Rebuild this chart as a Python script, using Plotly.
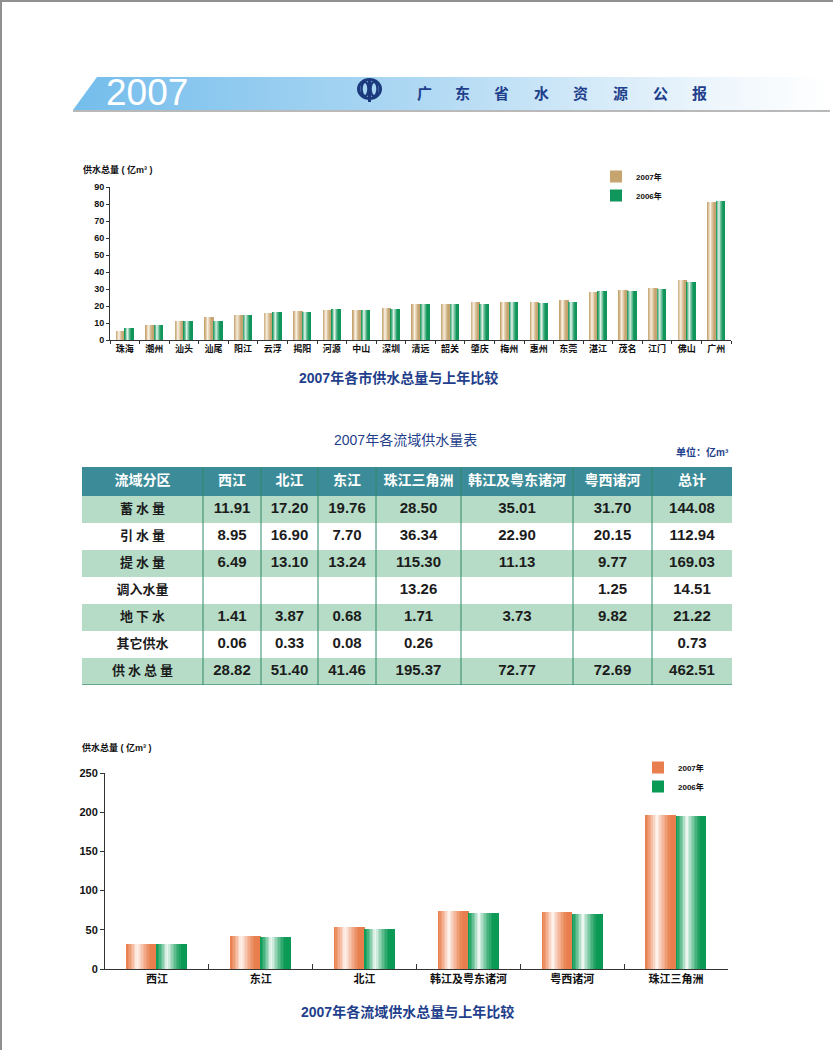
import plotly.graph_objects as go

W, H = 833, 1050

# ---------------- data ----------------
cities = ["珠海", "潮州", "汕头", "汕尾", "阳江", "云浮", "揭阳", "河源", "中山", "深圳", "清远",
          "韶关", "肇庆", "梅州", "惠州", "东莞", "湛江", "茂名", "江门", "佛山", "广州"]
city_2007 = [5.2, 8.8, 11.2, 13.3, 14.5, 15.6, 17.1, 17.5, 17.8, 18.8, 21.2,
             21.1, 22.2, 22.4, 22.5, 23.3, 28.2, 29.2, 30.6, 35.1, 81.0]
city_2006 = [6.8, 8.8, 11.2, 11.3, 14.5, 16.3, 16.7, 18.0, 17.8, 18.0, 21.0,
             21.1, 21.2, 22.2, 21.8, 22.4, 28.8, 29.0, 30.2, 34.1, 81.6]

basins = ["西江", "东江", "北江", "韩江及粤东诸河", "粤西诸河", "珠江三角洲"]
basin_2007 = [31.9, 41.7, 53.2, 73.7, 72.4, 196.3]
basin_2006 = [31.9, 40.5, 50.7, 71.1, 70.7, 195.1]

table_header = ["流域分区", "西江", "北江", "东江", "珠江三角洲", "韩江及粤东诸河", "粤西诸河", "总计"]
row_labels = ["蓄 水 量", "引 水 量", "提 水 量", "调入水量", "地 下 水", "其它供水", "供 水 总 量"]
col_xijiang = [11.91, 8.95, 6.49, None, 1.41, 0.06, 28.82]
col_beijiang = [17.20, 16.90, 13.10, None, 3.87, 0.33, 51.40]
col_dongjiang = [19.76, 7.70, 13.24, None, 0.68, 0.08, 41.46]
col_delta = [28.50, 36.34, 115.30, 13.26, 1.71, 0.26, 195.37]
col_hanjiang = [35.01, 22.90, 11.13, None, 3.73, None, 72.77]
col_yuexi = [31.70, 20.15, 9.77, 1.25, 9.82, None, 72.69]
col_total = [144.08, 112.94, 169.03, 14.51, 21.22, 0.73, 462.51]
series_names = ["2007年", "2006年"]

# ---------------- helpers ----------------
FONT = "Liberation Sans, Noto Sans CJK SC, sans-serif"
NAVY = "#1f3f8c"


def px(x):
    return x / W


def py(y):
    return 1 - y / H


def hex2rgb(h):
    h = h.lstrip("#")
    return tuple(int(h[i:i + 2], 16) for i in (0, 2, 4))


def mix(base, hi, t):
    a, b = hex2rgb(base), hex2rgb(hi)
    return "rgb(%d,%d,%d)" % tuple(round(a[i] + (b[i] - a[i]) * t) for i in range(3))


K = 20


def shade(i, peak=0.36):
    t = (i + 0.5) / K
    d = abs(t - peak) / (peak if t < peak else (1 - peak) * 0.75)
    return max(0.0, 1 - d) ** 1.3


def gradient_bars(fig, x, y, side, bw, base, hi, name, xa, ya, legend):
    sw = bw / K
    start = -bw if side == 0 else 0
    for i in range(K):
        fig.add_trace(go.Bar(
            x=x, y=y, xaxis=xa, yaxis=ya,
            width=sw * 1.15, offset=start + i * sw,
            marker=dict(color=mix(base, hi, shade(i)), line=dict(width=0)),
            name=name, legendgroup=name + xa, legend=legend,
            showlegend=(i == K - 1), hoverinfo="x+y",
        ))


fig = go.Figure()

# ---------------- header banner ----------------
fig.add_trace(go.Scatter(
    x=[97, 830, 830, 73, 97], y=[77, 77, 110, 110, 77], xaxis="x3", yaxis="y3",
    mode="lines", fill="toself", line=dict(width=0), hoverinfo="skip", showlegend=False,
    fillgradient=dict(type="horizontal",
                      colorscale=[[0, "#74bdec"], [0.45, "#aed8f3"], [0.85, "#eef6fc"], [1, "#ffffff"]]),
))

# ---------------- top chart ----------------
gradient_bars(fig, cities, city_2007, 0, 0.29, "#c6a470", "#faf3e6", series_names[0], "x", "y", "legend")
gradient_bars(fig, cities, city_2006, 1, 0.29, "#10955a", "#e6f5ec", series_names[1], "x", "y", "legend")

# ---------------- bottom chart ----------------
gradient_bars(fig, basins, basin_2007, 0, 0.29, "#e97f4e", "#fff7f2", series_names[0], "x2", "y2", "legend2")
gradient_bars(fig, basins, basin_2006, 1, 0.29, "#0b9a55", "#f4fbf7", series_names[1], "x2", "y2", "legend2")

# ---------------- table (heatmap fills + text) ----------------
col_w = [121, 58, 57, 58, 85, 112, 79, 80]
HEAD_H, ROW_H = 29, 27
x_edges = [0]
for w in col_w:
    x_edges.append(x_edges[-1] + w)
y_edges = [0, HEAD_H] + [HEAD_H + ROW_H * (r + 1) for r in range(len(row_labels))]
z = [[0] * len(col_w)] + [[1 if r % 2 == 0 else 2] * len(col_w) for r in range(len(row_labels))]
fig.add_trace(go.Heatmap(
    x=x_edges, y=y_edges, z=z, xaxis="x4", yaxis="y4", zmin=0, zmax=2, showscale=False,
    colorscale=[[0, "#3b8b98"], [0.5, "#b6dcc7"], [1, "#ffffff"]], hoverinfo="skip",
))


def fmt(col):
    return ["" if v is None else f"{v:.2f}" for v in col]


cols = [row_labels] + [fmt(c) for c in (col_xijiang, col_beijiang, col_dongjiang, col_delta,
                                         col_hanjiang, col_yuexi, col_total)]
cx = [(x_edges[j] + x_edges[j + 1]) / 2 for j in range(len(col_w))]
cy_head = HEAD_H / 2
cy_rows = [(y_edges[r + 1] + y_edges[r + 2]) / 2 for r in range(len(row_labels))]

fig.add_trace(go.Scatter(
    x=cx, y=[cy_head] * len(cx), text=table_header, xaxis="x4", yaxis="y4", mode="text",
    textposition="middle center", hoverinfo="skip", showlegend=False,
    textfont=dict(family="Noto Sans CJK SC", size=14, color="white", weight="bold"),
))
for j, col in enumerate(cols):
    fig.add_trace(go.Scatter(
        x=[cx[j]] * len(col), y=cy_rows, text=col, xaxis="x4", yaxis="y4", mode="text",
        textposition="middle center", hoverinfo="skip", showlegend=False,
        textfont=dict(family=("Noto Sans CJK SC" if j == 0 else "Liberation Sans"),
                      size=(13 if j == 0 else 15), color="#1c1c1c", weight="bold"),
    ))

# ---------------- layout ----------------
shapes = []
shapes.append(dict(type="line", xref="paper", yref="paper", x0=0, x1=1, y0=py(1), y1=py(1),
                   line=dict(color="#909090", width=2)))
shapes.append(dict(type="line", xref="paper", yref="paper", x0=px(1), x1=px(1), y0=0, y1=py(1),
                   line=dict(color="#909090", width=2)))
shapes.append(dict(type="line", xref="paper", yref="paper", x0=px(73), x1=px(830), y0=py(111), y1=py(111),
                   line=dict(color="#b9b9b9", width=2)))
# logo
shapes.append(dict(type="circle", xref="paper", yref="paper", x0=px(357), x1=px(382), y0=py(100), y1=py(78),
                   fillcolor="#1b3a7e", line=dict(width=0)))
shapes.append(dict(type="circle", xref="paper", yref="paper", x0=px(360), x1=px(379), y0=py(97), y1=py(81),
                   fillcolor="#a8d5f2", line=dict(width=0)))
for a, b in ((361.5, 368.5), (370.5, 377.5)):
    shapes.append(dict(type="circle", xref="paper", yref="paper", x0=px(a), x1=px(b), y0=py(96), y1=py(82),
                       fillcolor="rgba(0,0,0,0)", line=dict(color="#1b3a7e", width=2.5)))
shapes.append(dict(type="rect", xref="paper", yref="paper", x0=px(368), x1=px(371), y0=py(102), y1=py(80),
                   fillcolor="#1b3a7e", line=dict(width=0)))
# table vertical rules and bottom rule
for xv in x_edges[1:-1]:
    shapes.append(dict(type="line", xref="x4", yref="y4", x0=xv, x1=xv, y0=0, y1=y_edges[-1],
                       line=dict(color="#2f8a66", width=1)))
shapes.append(dict(type="line", xref="x4", yref="y4", x0=0, x1=x_edges[-1], y0=y_edges[-1] + 1,
                   y1=y_edges[-1] + 1, line=dict(color="#1c7650", width=3)))


def note(text, x, y, size, color, weight="normal", xanchor="center", family=FONT):
    return dict(text=text, x=px(x), y=py(y), xref="paper", yref="paper", xanchor=xanchor,
                yanchor="middle", showarrow=False,
                font=dict(family=family, size=size, color=color, weight=weight))


ann = [note("2007", 104, 93, 37, "white", xanchor="left", family="Liberation Sans")]
for ch, cxx in zip("广东省水资源公报", (424, 462, 501, 541, 580, 620, 660, 699)):
    ann.append(note(ch, cxx, 93, 15, NAVY, "bold", family="Noto Sans CJK SC"))
ann.append(note("供水总量 ( 亿m³ )", 81, 170, 9, "#111", "bold", xanchor="left"))
ann.append(note("2007年各市供水总量与上年比较", 398, 378, 14, NAVY, "bold"))
ann.append(note("2007年各流域供水量表", 405, 440, 14, NAVY))
ann.append(note("单位：亿m³", 731, 452, 10, NAVY, "bold", xanchor="right"))
ann.append(note("供水总量 ( 亿m³ )", 80, 747, 9, "#111", "bold", xanchor="left"))
ann.append(note("2007年各流域供水总量与上年比较", 407, 1012, 14, NAVY, "bold"))

axis_common = dict(showgrid=False, zeroline=False, showline=True, linecolor="#333", linewidth=1,
                   tickcolor="#333", fixedrange=True, automargin=False)

fig.update_layout(
    width=W, height=H, margin=dict(l=0, r=0, t=0, b=0, pad=0, autoexpand=False),
    paper_bgcolor="white", plot_bgcolor="rgba(0,0,0,0)",
    barmode="overlay", bargap=0,
    font=dict(family=FONT, color="#111"),
    shapes=shapes, annotations=ann,
    xaxis=dict(domain=[px(110), px(731)], anchor="y", type="category", tickson="boundaries",
               ticks="outside", ticklen=3,
               tickfont=dict(family=FONT, size=9, weight="bold"), **axis_common),
    yaxis=dict(domain=[py(340), py(187)], anchor="x", range=[0, 90], dtick=10, ticks="outside", ticklen=3,
               tickfont=dict(family=FONT, size=9, weight="bold"), **axis_common),
    xaxis2=dict(domain=[px(105), px(728)], anchor="y2", type="category", tickson="boundaries",
                ticks="inside", ticklen=5,
                tickfont=dict(family=FONT, size=11, weight="bold"), **axis_common),
    yaxis2=dict(domain=[py(969), py(773)], anchor="x2", range=[0, 250], dtick=50, ticks="outside", ticklen=4,
                tickfont=dict(family=FONT, size=11, weight="bold"), **axis_common),
    xaxis3=dict(domain=[0, 1], anchor="y3", range=[0, W], visible=False, fixedrange=True),
    yaxis3=dict(domain=[0, 1], anchor="x3", range=[H, 0], visible=False, fixedrange=True),
    xaxis4=dict(domain=[px(82), px(732)], anchor="y4", range=[0, x_edges[-1]], visible=False, fixedrange=True),
    yaxis4=dict(domain=[py(467 + y_edges[-1]), py(467)], anchor="x4", range=[y_edges[-1], 0],
                visible=False, fixedrange=True),
    legend=dict(x=px(596), y=py(162), xanchor="left", yanchor="top", bgcolor="rgba(0,0,0,0)",
                font=dict(family=FONT, size=8, weight="bold"), itemwidth=30, tracegroupgap=0),
    legend2=dict(x=px(638), y=py(753), xanchor="left", yanchor="top", bgcolor="rgba(0,0,0,0)",
                 font=dict(family=FONT, size=8, weight="bold"), itemwidth=30, tracegroupgap=0),
)

fig.write_html("out.html", config={"displayModeBar": False, "responsive": False},
               post_script="document.body.style.margin='0';document.body.style.overflow='hidden';")
